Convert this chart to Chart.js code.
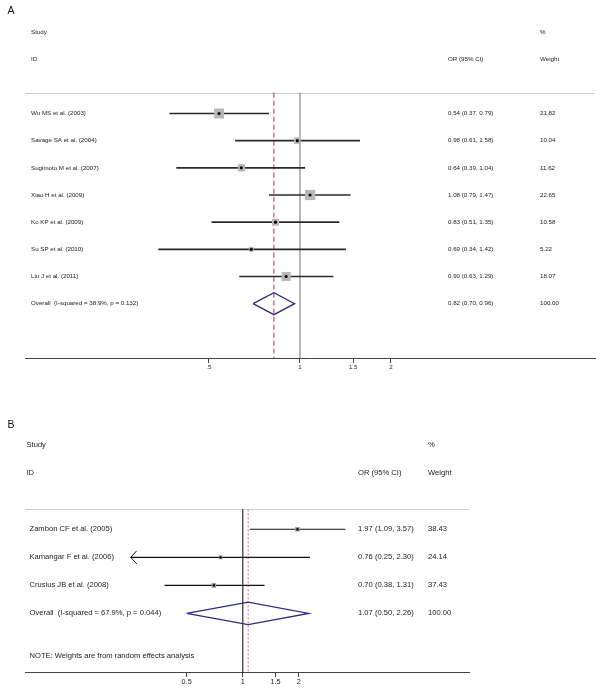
<!DOCTYPE html>
<html lang="en">
<head>
<meta charset="UTF-8">
<title>Forest plot</title>
<script src="https://cdn.jsdelivr.net/npm/chart.js@4"></script>
<style>
    body { margin: 0; background: #fff; }
    canvas { position: absolute; left: 0; }
    #graficoA { top: 0; }
    #graficoB { top: 384px; }
</style>
</head>
<body>
<canvas id="graficoA" width="600" height="384"></canvas>
<canvas id="graficoB" width="600" height="308"></canvas>

<script>
// panel A
var studiesA = ['Wu MS et al. (2003)', 'Savage SA et al. (2004)', 'Sugimoto M et al. (2007)', 'Xiao H et al. (2009)',
                'Ko KP et al. (2009)', 'Su SP et al. (2010)', 'Liu J et al. (2011)'];
var orA     = [0.54, 0.98, 0.64, 1.08, 0.83, 0.69, 0.90];
var lowA    = [0.37, 0.61, 0.39, 0.79, 0.51, 0.34, 0.63];
var highA   = [0.79, 1.58, 1.04, 1.47, 1.35, 1.42, 1.29];
var weightA = [21.82, 10.04, 11.62, 22.65, 10.58, 5.22, 18.07];
var overallA = [0.82, 0.70, 0.96];      // OR, low, high
var overallLabelA = 'Overall  (I-squared = 38.9%, p = 0.132)';
var tickValsA   = [0.5, 1, 1.5, 2];
var tickLabelsA = ['.5', '1', '1.5', '2'];

// panel B
var studiesB = ['Zambon CF et al. (2005)', 'Kamangar F et al. (2006)', 'Crusius JB et al. (2008)'];
var orB     = [1.97, 0.76, 0.70];
var lowB    = [1.09, 0.25, 0.38];
var highB   = [3.57, 2.30, 1.31];
var weightB = [38.43, 24.14, 37.43];
var overallB = [1.07, 0.50, 2.26];
var overallLabelB = 'Overall  (I-squared = 67.9%, p = 0.044)';
var noteB = 'NOTE: Weights are from random effects analysis';
var clipLowB = 0.25;                    // CI cut at the left edge -> arrow
var tickValsB   = [0.5, 1, 1.5, 2];
var tickLabelsB = ['0.5', '1', '1.5', '2'];

var fontFamily = '"Liberation Sans", Arial, Helvetica, sans-serif';

function orText(or, lo, hi) {
    return or.toFixed(2) + ' (' + lo.toFixed(2) + ', ' + hi.toFixed(2) + ')';
}

// texts, top rule and arrows
var forestText = {
    id: 'forestText',
    beforeDatasetsDraw: function(chart, args, o) {
        var ctx = chart.ctx, area = chart.chartArea;
        var yy = Math.round(chart.scales.y.getPixelForValue(o.ruleRow)) + 0.5;
        ctx.save();
        ctx.strokeStyle = '#cdcdcd';
        ctx.lineWidth = 1;
        ctx.beginPath();
        ctx.moveTo(area.left, yy);
        ctx.lineTo(area.right, yy);
        ctx.stroke();
        ctx.restore();
    },
    afterDraw: function(chart, args, o) {
        var ctx = chart.ctx, xs = chart.scales.x, ys = chart.scales.y;
        ctx.save();
        ctx.fillStyle = '#1a1a1a';
        ctx.textBaseline = 'middle';
        ctx.textAlign = 'left';
        ctx.font = o.fontSize + 'px ' + fontFamily;
        o.rows.forEach(function(r) {
            var py = ys.getPixelForValue(r.row);
            r.cells.forEach(function(c) { ctx.fillText(c[1], c[0], py); });
        });
        ctx.font = o.letterSize + 'px ' + fontFamily;
        ctx.textBaseline = 'top';
        ctx.fillStyle = '#111';
        ctx.fillText(o.letter, 7.5, o.letterTop);

        ctx.strokeStyle = '#111';
        ctx.lineWidth = 1;
        o.arrows.forEach(function(a) {
            var px = xs.getPixelForValue(a.x), py = ys.getPixelForValue(a.row);
            ctx.beginPath();
            ctx.moveTo(px + 6, py - 6.5);
            ctx.lineTo(px, py);
            ctx.lineTo(px + 6, py + 6.5);
            ctx.stroke();
        });
        ctx.restore();
    }
};

function makePanel(id, d, s) {
    var n = d.studies.length;
    var o = d.overall;
    var datasets = [];

    // centre dots
    datasets.push({
        data: d.or.map(function(v, i) { return {x: v, y: i}; }),
        pointStyle: s.dotStyle, pointRadius: s.dotRadius,
        backgroundColor: '#000', borderWidth: 0
    });
    // weight boxes
    datasets.push({
        data: d.or.map(function(v, i) { return {x: v, y: i}; }),
        pointStyle: 'rect',
        pointRadius: d.weight.map(function(w) { return s.boxScale * Math.sqrt(w) / Math.SQRT2; }),
        backgroundColor: s.boxColor, borderWidth: 0
    });
    // confidence intervals
    d.low.forEach(function(lo, i) {
        datasets.push({
            data: [{x: lo, y: i}, {x: d.high[i], y: i}],
            showLine: true, pointRadius: 0,
            borderColor: s.ciColor, borderWidth: s.ciWidth
        });
    });
    // overall diamond
    datasets.push({
        data: [{x: o[1], y: n}, {x: o[0], y: n - s.diamond}, {x: o[2], y: n},
               {x: o[0], y: n + s.diamond}, {x: o[1], y: n}],
        showLine: true, pointRadius: 0,
        borderColor: '#2c2c80', borderWidth: 1.3, borderJoinStyle: 'miter'
    });
    // overall effect (dashed) and no effect line
    datasets.push({
        data: [{x: o[0], y: s.ruleRow}, {x: o[0], y: s.yMax}],
        showLine: true, pointRadius: 0,
        borderColor: s.dashColor, borderWidth: 1, borderDash: s.dash
    });
    datasets.push({
        data: [{x: 1, y: s.ruleRow}, {x: 1, y: s.yMax}],
        showLine: true, pointRadius: 0,
        borderColor: s.nullColor, borderWidth: s.nullWidth
    });

    var rows = [
        {row: -3, cells: [[s.colHead, 'Study'], [s.colWeight, '%']]},
        {row: -2, cells: [[s.colHead, 'ID'], [s.colOr, 'OR (95% CI)'], [s.colWeight, 'Weight']]}
    ];
    d.studies.forEach(function(name, i) {
        rows.push({row: i, cells: [[s.colLabel, name],
                                   [s.colOr, orText(d.or[i], d.low[i], d.high[i])],
                                   [s.colWeight, d.weight[i].toFixed(2)]]});
    });
    rows.push({row: n, cells: [[s.colLabel, d.overallLabel], [s.colOr, orText(o[0], o[1], o[2])], [s.colWeight, '100.00']]});
    if (d.note) rows.push({row: s.noteRow, cells: [[s.colLabel, d.note]]});

    var arrows = [];
    d.low.forEach(function(lo, i) {
        if (d.clipLow && lo <= d.clipLow) arrows.push({x: d.clipLow, row: i});
    });

    var config = {
        type: 'scatter',
        data: { datasets: datasets },
        options: {
            responsive: false,
            animation: false,
            events: [],
            layout: { autoPadding: false, padding: s.padding },
            plugins: {
                legend: { display: false },
                tooltip: { enabled: false },
                forestText: {
                    rows: rows, arrows: arrows, ruleRow: s.ruleRow,
                    fontSize: s.fontSize, letter: s.letter, letterSize: s.letterSize, letterTop: s.letterTop
                }
            },
            scales: {
                x: {
                    type: 'logarithmic',
                    min: s.xMin, max: s.xMax,
                    afterBuildTicks: function(scale) {
                        scale.ticks = d.tickVals.map(function(v) { return {value: v}; });
                    },
                    afterFit: function(scale) { scale.height = 20; },
                    ticks: {
                        autoSkip: false, maxRotation: 0, padding: 1,
                        color: '#1e1e1e',
                        font: { family: fontFamily, size: s.tickFont },
                        callback: function(v, i) { return d.tickLabels[i]; }
                    },
                    grid: { drawOnChartArea: false, drawTicks: true, tickLength: 5, tickColor: '#444' },
                    border: { color: '#444', width: 1 }
                },
                y: {
                    type: 'linear', display: false, reverse: true,
                    min: s.yMin, max: s.yMax
                }
            }
        },
        plugins: [forestText]
    };
    return new Chart(id, config);
}

makePanel('graficoA', {
    studies: studiesA, or: orA, low: lowA, high: highA, weight: weightA,
    overall: overallA, overallLabel: overallLabelA,
    tickVals: tickValsA, tickLabels: tickLabelsA
}, {
    padding: {left: 25, right: 5, top: 32, bottom: 6},
    xMin: 0.1232, xMax: 9.458, yMin: -3, yMax: 9, ruleRow: -0.77,
    colHead: 31, colLabel: 31, colOr: 448, colWeight: 540,
    fontSize: 6.2, tickFont: 6.2, letter: 'A', letterSize: 10.5, letterTop: 6,
    dotStyle: 'circle', dotRadius: 1.6, boxScale: 2.14, boxColor: '#b9b9b9',
    ciColor: '#2a2a2a', ciWidth: 1.6, diamond: 0.405,
    dashColor: '#c02a48', dash: [5, 3], nullColor: '#8a8a8a', nullWidth: 1.2
});

makePanel('graficoB', {
    studies: studiesB, or: orB, low: lowB, high: highB, weight: weightB,
    overall: overallB, overallLabel: overallLabelB, note: noteB, clipLow: clipLowB,
    tickVals: tickValsB, tickLabels: tickLabelsB
}, {
    padding: {left: 25, right: 131, top: 60.3, bottom: 0},
    xMin: 0.06759, xMax: 16.456, yMin: -3.03, yMax: 5.09, ruleRow: -0.71, noteRow: 4.53,
    colHead: 26.5, colLabel: 29.5, colOr: 358, colWeight: 428,
    fontSize: 7.6, tickFont: 7.3, letter: 'B', letterSize: 10.5, letterTop: 36,
    dotStyle: 'rect', dotRadius: 1.6, boxScale: 0.75, boxColor: '#9a9a9a',
    ciColor: '#111', ciWidth: 1.2, diamond: 0.4,
    dashColor: '#d46a7c', dash: [2, 2], nullColor: '#555', nullWidth: 1
});
</script>
</body>
</html>
